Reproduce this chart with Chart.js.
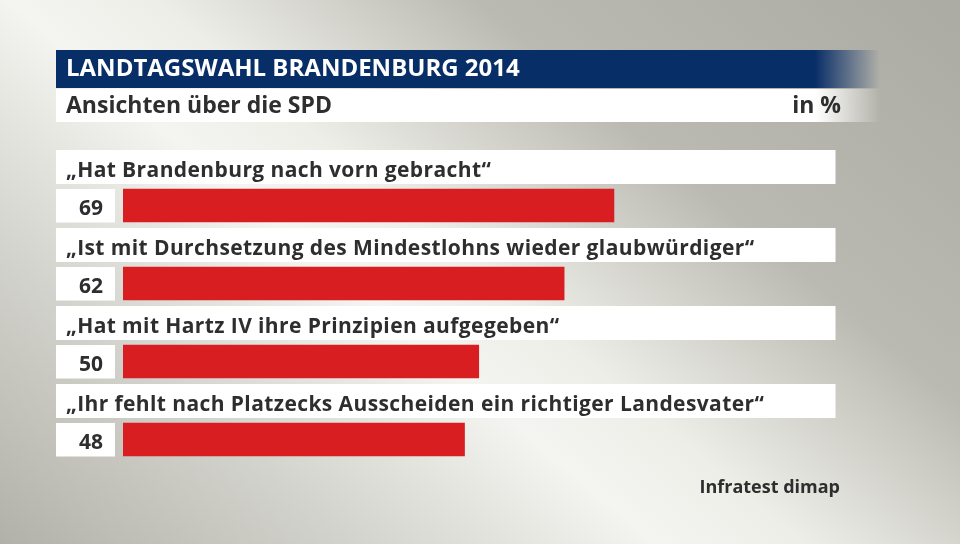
<!DOCTYPE html>
<html><head><meta charset="utf-8">
<script src="https://cdn.jsdelivr.net/npm/chart.js@4/dist/chart.umd.min.js"></script>
<style>html,body{margin:0;padding:0;background:#c8c7c0}canvas{display:block}</style>
</head><body>
<canvas id="c" width="960" height="544" style="width:960px;height:544px"></canvas>
<script>
const title = "LANDTAGSWAHL BRANDENBURG 2014";
const subtitle = "Ansichten über die SPD";
const unitLabel = "in %";
const sourceLabel = "Infratest dimap";
const categories = [
  "„Hat Brandenburg nach vorn gebracht“",
  "„Ist mit Durchsetzung des Mindestlohns wieder glaubwürdiger“",
  "„Hat mit Hartz IV ihre Prinzipien aufgegeben“",
  "„Ihr fehlt nach Platzecks Ausscheiden ein richtiger Landesvater“"
];
const values = [69, 62, 50, 48];
const axisMin = 0, axisMax = 100;

const FONT = '"Open Sans", "DejaVu Sans", sans-serif';
const TEXT = '#2e2e2e';
const RED = '#d81e20';
const BLUE = '#082e68';

function fadeBar(ctx, x0, y0, x1, y1, color, rgb) {
  const fadeStart = 815, fadeEnd = 880;
  ctx.fillStyle = color;
  ctx.fillRect(x0, y0, fadeStart - x0, y1 - y0);
  const g = ctx.createLinearGradient(fadeStart, 0, fadeEnd, 0);
  g.addColorStop(0, 'rgba(' + rgb + ',1)');
  g.addColorStop(1, 'rgba(' + rgb + ',0)');
  ctx.fillStyle = g;
  ctx.fillRect(fadeStart, y0, fadeEnd - fadeStart, y1 - y0);
}

const decor = {
  id: 'decor',
  beforeDraw(chart) {
    const ctx = chart.ctx, W = chart.width, H = chart.height;
    ctx.save();
    const g = ctx.createLinearGradient(-268, 320, 395, -472);
    g.addColorStop(0, '#b2b1a9');
    g.addColorStop(0.22, '#d3d3cd');
    g.addColorStop(0.41, '#f4f4f0');
    g.addColorStop(0.5, '#eeeee9');
    g.addColorStop(0.7, '#bbbab2');
    g.addColorStop(1, '#acaba3');
    ctx.fillStyle = g;
    ctx.fillRect(0, 0, W, H);
    fadeBar(ctx, 56, 50, 880, 88, BLUE, '8,46,104');
    fadeBar(ctx, 56, 89, 880, 122, '#ffffff', '255,255,255');
    ctx.restore();
  },
  beforeDatasetsDraw(chart) {
    const ctx = chart.ctx, xs = chart.scales.x, ys = chart.scales.y;
    const left = 56, right = Math.round(xs.getPixelForValue(axisMax)) + 0.5;
    ctx.save();
    ctx.fillStyle = '#ffffff';
    categories.forEach((c, i) => {
      const yc = ys.getPixelForValue(i);
      ctx.fillRect(left, yc - 55.5, right - left, 34);
      ctx.fillRect(left, yc - 16.5, 59, 33.5);
    });
    ctx.restore();
  },
  afterDatasetsDraw(chart) {
    const ctx = chart.ctx, xs = chart.scales.x, ys = chart.scales.y;
    ctx.save();
    ctx.textBaseline = 'alphabetic';
    ctx.fillStyle = '#ffffff';
    ctx.font = 'bold 24px ' + FONT;
    ctx.textAlign = 'left';
    ctx.fillText(title, 66, 76);
    ctx.fillStyle = TEXT;
    ctx.font = 'bold 23px ' + FONT;
    ctx.fillText(subtitle, 66, 113);
    ctx.textAlign = 'right';
    ctx.fillText(unitLabel, 841, 113);
    ctx.font = 'bold 18px ' + FONT;
    ctx.fillText(sourceLabel, 840, 493);
    categories.forEach((c, i) => {
      const yc = ys.getPixelForValue(i);
      ctx.textAlign = 'left';
      ctx.font = 'bold 21px ' + FONT;
      ctx.letterSpacing = '0.4px';
      ctx.fillText(c, 66, yc - 29);
      ctx.letterSpacing = '0px';
      ctx.textAlign = 'right';
      ctx.font = 'bold 21px ' + FONT;
      ctx.fillText(String(values[i]), 103, yc + 9.5);
    });
    ctx.restore();
  }
};

new Chart(document.getElementById('c'), {
  type: 'bar',
  data: {
    labels: categories,
    datasets: [{
      data: values,
      backgroundColor: RED,
      borderWidth: 0,
      barThickness: 33,
      categoryPercentage: 1,
      barPercentage: 1
    }]
  },
  options: {
    indexAxis: 'y',
    responsive: false,
    devicePixelRatio: 1,
    animation: false,
    layout: { padding: { left: 123, right: 125.5, top: 166.5, bottom: 65.5 } },
    plugins: { legend: { display: false }, tooltip: { enabled: false }, title: { display: false } },
    scales: {
      x: { display: false, min: axisMin, max: axisMax },
      y: { display: false }
    }
  },
  plugins: [decor]
});
</script>
</body></html>
